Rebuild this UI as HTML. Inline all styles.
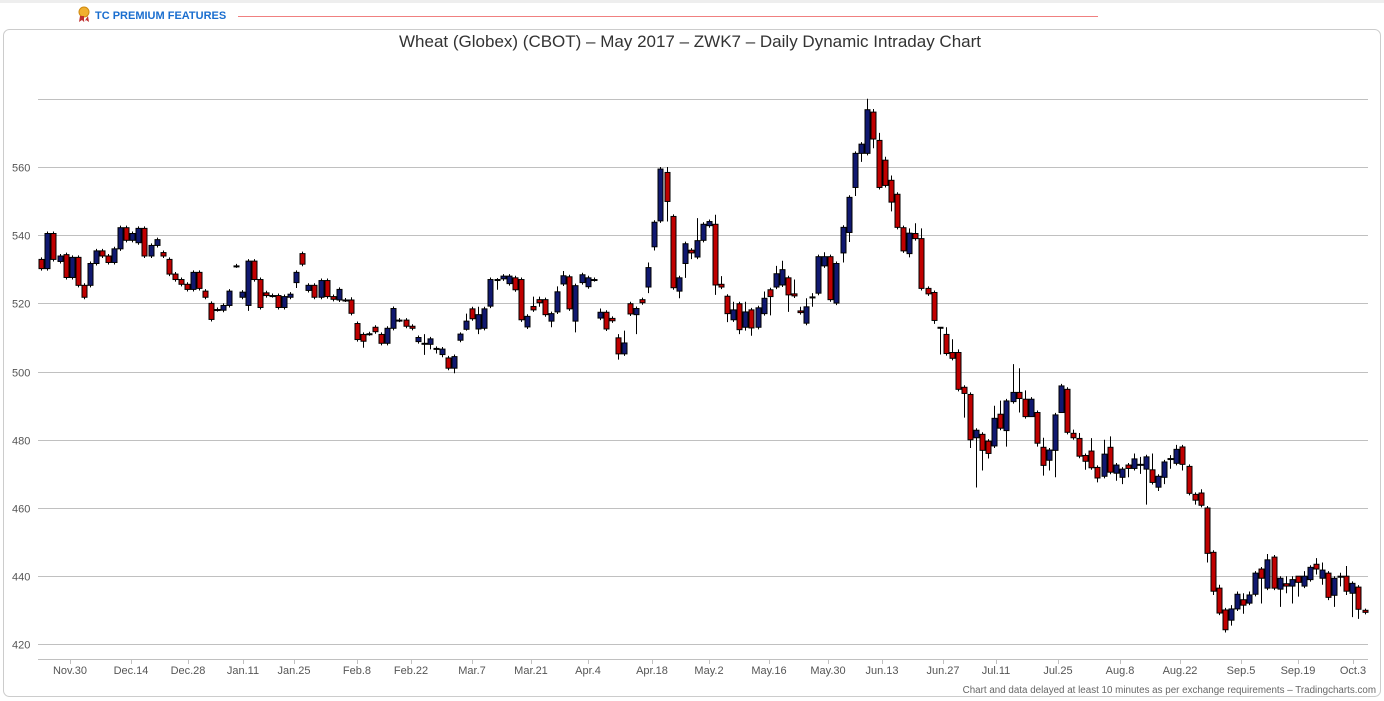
<!DOCTYPE html>
<html><head><meta charset="utf-8"><style>
html,body{margin:0;padding:0;background:#fff;width:1384px;height:701px;overflow:hidden;font-family:"Liberation Sans",sans-serif}
</style></head><body>
<svg id="s" width="1384" height="701" xmlns="http://www.w3.org/2000/svg" font-family="Liberation Sans, sans-serif">
<rect x="0" y="0" width="1384" height="3" fill="#eee"/>
<circle cx="84" cy="12" r="5" fill="#f0b030" stroke="#d08a10"/>
<path d="M80 16 L79 22 L82 20 L84 22 L84 16 Z M88 16 L89 22 L86 20 L84 22 Z" fill="#c03030"/>
<text x="95" y="19" font-size="11" font-weight="bold" fill="#1a6ecf">TC PREMIUM FEATURES</text>
<line x1="238" y1="16.5" x2="1098" y2="16.5" stroke="#f08080" stroke-width="1"/>
<rect x="3.5" y="29.5" width="1377" height="667" rx="6" fill="#fff" stroke="#ccc"/>
<text x="690" y="47" text-anchor="middle" font-size="17" fill="#333">Wheat (Globex) (CBOT) – May 2017 – ZWK7 – Daily Dynamic Intraday Chart</text>
<g id="grid"></g><g id="c"></g>
<text x="1376" y="693" text-anchor="end" font-size="9.8" fill="#666">Chart and data delayed at least 10 minutes as per exchange requirements – Tradingcharts.com</text>
</svg>
<script>
var NS="http://www.w3.org/2000/svg",svg=document.getElementById('s');
function Y(p){return 167+(560-p)*3.41;}
function el(t,a,par){var e=document.createElementNS(NS,t);for(var k in a)e.setAttribute(k,a[k]);(par||svg).appendChild(e);return e;}
var g=document.getElementById('grid');
for(var p=420;p<=580;p+=20){var y=Math.round(Y(p))+0.5;el('line',{x1:38,x2:1368,y1:y,y2:y,stroke:'#c0c0c0'},g);
 if(p<580){var t=el('text',{x:12,y:y+4,'font-size':11,fill:'#555'},g);t.textContent=p;}}
el('line',{x1:38,x2:1368,y1:659.5,y2:659.5,stroke:'#c0c0c0'},g);
var L=[["Nov.30",70],["Dec.14",131],["Dec.28",188],["Jan.11",243],["Jan.25",294],["Feb.8",357],["Feb.22",411],["Mar.7",472],["Mar.21",531],["Apr.4",588],["Apr.18",652],["May.2",709],["May.16",769],["May.30",828],["Jun.13",882],["Jun.27",943],["Jul.11",996],["Jul.25",1058],["Aug.8",1120],["Aug.22",1180],["Sep.5",1241],["Sep.19",1298],["Oct.3",1353]];
L.forEach(function(l){el('line',{x1:l[1]+.5,x2:l[1]+.5,y1:660,y2:664,stroke:'#c0c0c0'},g);var t=el('text',{x:l[1],y:674,'font-size':11,fill:'#555','text-anchor':'middle'},g);t.textContent=l[0];});
var D=[[532.9,530.2],[530.2,540.5],[540.5,532.9],[532.3,533.9],[534.3,527.6],[527.6,533.5],[533.5,525.3],[525.3,521.8],[525.3,531.7],[531.7,535.4],[535.4,533.9],[533.9,532],[532,536],[536,542.2],[542.2,538.5],[538.5,540.5],[537.8,542],[542,533.9],[533.9,537],[537,538.7],[534.9,533.9],[532.9,528.6],[528.6,527],[527,525.6],[525.6,524.1],[524.1,529.1],[529.1,524.4],[523.6,521.8],[520,515.3],[518.2,518.2],[518,519.4],[519.4,523.6],[531,531],[521.8,523.3],[519.4,532.4,533,517.8],[532.4,527],[527,518.8],[523.1,522.3],[522.3,522.3],[522.3,518.8],[518.8,522],[521.8,522.7],[526.1,529.1,0,524.5],[534.6,531.5],[523.8,525.3],[525.3,521.8],[521.8,526.7],[526.7,522],[522,521.2],[521,524.1],[521,521],[521,517.1,521.8,0],[514.1,509.4],[510.9,508.9,0,507],[511.1,511.1],[513,511.7],[510.9,508.3],[508.3,512.7],[512.7,518.5],[515.1,515.1],[515.1,513.3],[513.3,512.7],[508.8,510],[508.3,508.3,511,504.9],[508,509.6,0,506.5],[506.8,506.8,0,505.3],[505,506.6,0,504.2],[504,501],[501,504.4,0,499.5],[509.2,511,511.5,0],[512.4,514.8,517,512],
[518.4,515.5],[512.5,516.7,519,511],[512.7,518.4],[519.2,527],[527,527,527.4,524],[527.2,528],[525.8,528],[527.5,524],[527,515.2],[513.1,516.2],[519.1,518.1,522,0],[521.1,520.2,522,519],[521.1,516.7],[514.8,517,0,513],[517.5,523.4,525,0],[525.7,528.1,529.5,0],[527.8,518.4],[514.8,525.2,0,511.5],[526.1,528.4],[524.9,527.5],[527,527],[515.7,517.4,518.5,0],[517.4,512.5],[515.6,514.9],[509.9,505.2,511,503.5],[505.2,508.4,512,0],[519.9,516.9],[516.7,518.5,0,511],[521.1,520.2],[524.8,530.5,532,523],[536.6,543.8,0,535.5],[544.2,559.4],[558.4,549.9,560,544],[545.5,524.6],[523.6,527.5,0,521.5],[531.7,537.5,0,527.5],[535.6,534.8,0,533],[533.6,538.4,545,0],[538.5,543.2],[542.8,544],[543.2,525.4,546,522.5],[525.6,524.8,528,0],[522.1,517,0,514.5],[515.2,518.1,520.5,0],[519.9,512.3,0,511],[513,517.5,520.5,512],[518.1,512.8,0,510.5],[513,518.7],[517,521.5,523.5,0],[524,522,0,516.5],[524.8,528.7,531,0],[525.4,529.9,532.5,0],[527.5,522.5,0,517.5],[522.8,522.2,527,0],[517.8,517.3,519,0],[514.2,519,521.5,0],[521.9,521.9,523,519],[523,533.7],[531,533.7,535,0],[533.7,521.1],[520.1,531.7],[534.8,542.3,0,532],[540.8,551.1,0,538],[554,564,0,551.5],[564,566.7,0,561.5],[564,576.8,580,0],[576.1,568.2,577,565.5],[567.8,554,570,0],[562,554.6,563,0],[556.1,549.7,557.5,547],[552,542.3],
[542.2,535.4],[534.6,540.6,542,533.5],[540.5,539,543.5,0],[539,524.4,542,0],[524.4,522.8],[523.2,515,0,514],[513,513,513,505],[510.9,505.3,513,0],[505.6,503.9,509.5,0],[505.6,494.8,506.5,0],[495.4,493.6,0,486.5],[493.3,480,0,477.6],[480.6,482.8,0,466],[481.6,476.9,0,471],[479.6,476,0,474.5],[478.2,486.3,490,0],[487.5,483.4,491.5,0],[482.7,491.4,0,478],[491.2,493.9,502.2,0],[493.9,492.1,501,488],[491.9,486.8,494.5,0],[486.8,491.9,0,487],[488,479,0,478],[477.8,472.5,480.6,469.5],[474,477,0,471],[476.9,487.3,0,469],[488,495.8,0,492],[494.8,482.2],[481.9,480.6,483,0],[480.4,475.2,482,0],[475.4,473.7,0,471.2],[476.7,471.8,480.5,0],[471.9,468.8,0,467.5],[469.3,475.8,480,0],[477.8,470.5,481,0],[470.2,472.6,0,468],[469,471.4,0,467],[472.6,471.6,0,469],[471.6,474.4,476,0],[472.8,472.8,475,470],[471.4,475,0,461],[471.2,467.5,476,0],[466.1,469.3,0,465],[469,473.5,0,467],[474.5,474.5,475.5,471.5],[473.1,477.2,478.5,0],[477.9,472.8,0,471],[472.2,464.3],[464,462.3,0,461],[464.4,460.8,465.5,0],[460,446.7,0,444],[447,435.6,0,434.5],[436.5,429.2,437.5,0],[430.1,424.3,0,423.5],[427.1,430.4,431.5,425.5],[430.4,434.7,435.5,0],[433.1,431.5,435,429],[432.1,434.5,435.5,0],[434.7,440.9],[442.1,439.4,0,432],[436.5,444.8,446.5,0],[445.6,436.5],[436.2,439.4,0,431],[437.8,437.1,440,435],[437.1,439,440,432],[440,438.2,440,434],[437.1,440,441.5,0],[439,442.6],[443.5,442.1,445.3,440.5],[439.4,441.8,444,437.5],[440.9,433.8,441.5,433],[434.4,439.4,0,431],[440,440,441,437],[440,435.6,443,434.5],[435,437.9,438.5,428],[436.8,430.3,0,427.5],[430,429.4,430.5,0]];
var c=document.getElementById('c');
D.forEach(function(d,i){var o=d[0],cl=d[1],up=cl>=o,top=Math.max(o,cl),bot=Math.min(o,cl);
 var hi=d[2]||top+0.6,lo=d[3]||bot-0.6;var x=Math.round(41.3+i*6.07);
 el('line',{x1:x+.5,x2:x+.5,y1:Y(hi),y2:Y(lo),stroke:'#000','stroke-width':1},c);
 var y1=Y(top),h=Math.max(Y(bot)-y1,1);
 el('rect',{x:x-2,y:y1,width:5,height:h,fill:up?'#101870':'#c00000',stroke:'#000','stroke-width':1},c);});
</script>
</body></html>
